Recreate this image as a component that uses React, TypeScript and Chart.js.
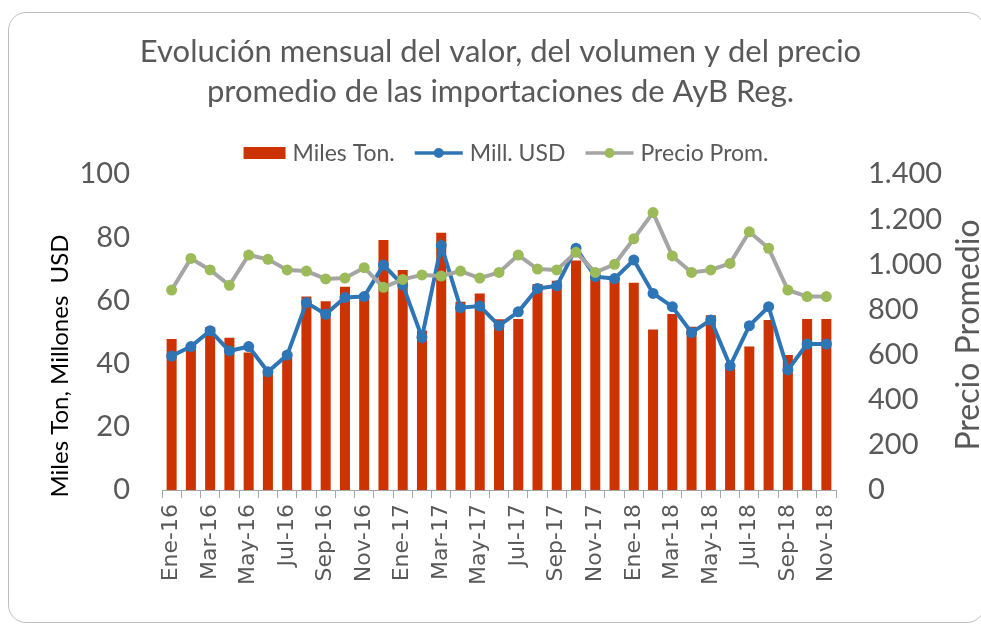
import { useEffect, useRef } from 'react';
import { Chart, registerables } from 'chart.js';

Chart.register(...registerables);

const categories = [
  'Ene-16', 'Feb-16', 'Mar-16', 'Abr-16', 'May-16', 'Jun-16', 'Jul-16', 'Ago-16', 'Sep-16', 'Oct-16', 'Nov-16', 'Dic-16',
  'Ene-17', 'Feb-17', 'Mar-17', 'Abr-17', 'May-17', 'Jun-17', 'Jul-17', 'Ago-17', 'Sep-17', 'Oct-17', 'Nov-17', 'Dic-17',
  'Ene-18', 'Feb-18', 'Mar-18', 'Abr-18', 'May-18', 'Jun-18', 'Jul-18', 'Ago-18', 'Sep-18', 'Oct-18', 'Nov-18',
];

const milesTon = [
  47.8, 44.8, 51.5, 48.2, 43.5, 37.0, 43.5, 61.2, 59.7, 64.3, 62.0, 79.1,
  69.6, 50.5, 81.4, 59.6, 62.2, 54.0, 54.1, 65.2, 66.2, 72.6, 69.0, 67.0,
  65.6, 50.8, 55.7, 51.7, 55.3, 39.0, 45.4, 53.8, 42.7, 54.1, 54.1,
];

const millUSD = [
  42.4, 45.4, 50.4, 44.0, 45.4, 37.4, 42.7, 59.3, 55.6, 60.9, 61.2, 71.2,
  64.9, 48.3, 77.4, 57.7, 58.2, 52.0, 56.4, 63.8, 64.6, 76.5, 67.5, 66.9,
  72.8, 62.2, 58.0, 49.8, 53.8, 39.3, 52.0, 58.0, 38.0, 46.2, 46.2,
];

const precioProm = [
  886, 1026, 975, 907, 1041, 1022, 975, 970, 935, 939, 985, 898,
  933, 953, 948, 970, 939, 964, 1041, 979, 975, 1053, 964, 1000,
  1113, 1229, 1037, 964, 975, 1004, 1144, 1071, 886, 857, 857,
];

const seriesNames = ['Miles Ton.', 'Mill. USD', 'Precio Prom.'];
const titleLines = ['Evolución mensual del valor, del volumen y del precio', 'promedio de las importaciones de AyB Reg.'];
const leftAxisTitle = 'Miles Ton, Millones  USD';
const rightAxisTitle = 'Precio Promedio';

const BAR = '#CC3300';
const BLUE = '#2E75B6';
const GRAY = '#A5A5A5';
const GREEN = '#9BBB59';
const TEXT = '#595959';
const FONT = 'Lato';

function formatThousands(v: number): string {
  const s = Math.round(v).toString();
  return s.replace(/\B(?=(\d{3})+(?!\d))/g, '.');
}

const overlayPlugin = {
  id: 'overlayTexts',
  afterDraw(chart: any) {
    const ctx: CanvasRenderingContext2D = chart.ctx;
    const area = chart.chartArea;
    ctx.save();

    // Legend
    ctx.font = `23px ${FONT}`;
    ctx.textBaseline = 'middle';
    ctx.textAlign = 'left';
    const iconW = [42, 48, 48];
    const gapIT = 7;
    const gapItems = 20;
    const widths = seriesNames.map((t) => ctx.measureText(t).width);
    let total = 0;
    for (let i = 0; i < 3; i++) total += iconW[i] + gapIT + widths[i];
    total += gapItems * 2;
    let x = 506 - total / 2;
    const y = 153;
    for (let i = 0; i < 3; i++) {
      if (i === 0) {
        ctx.fillStyle = BAR;
        ctx.fillRect(x, y - 6, iconW[i], 12);
      } else {
        const lc = i === 1 ? BLUE : GRAY;
        const pc = i === 1 ? BLUE : GREEN;
        ctx.strokeStyle = lc;
        ctx.lineWidth = 3.5;
        ctx.beginPath();
        ctx.moveTo(x, y);
        ctx.lineTo(x + iconW[i], y);
        ctx.stroke();
        ctx.fillStyle = pc;
        ctx.beginPath();
        ctx.arc(x + iconW[i] / 2, y, 5, 0, Math.PI * 2);
        ctx.fill();
      }
      x += iconW[i] + gapIT;
      ctx.fillStyle = TEXT;
      ctx.fillText(seriesNames[i], x, y + 1);
      x += widths[i] + gapItems;
    }

    // Left axis title
    ctx.save();
    ctx.font = `24px ${FONT}`;
    ctx.fillStyle = '#000000';
    ctx.textAlign = 'center';
    ctx.textBaseline = 'middle';
    ctx.translate(60, 366);
    ctx.rotate(-Math.PI / 2);
    ctx.fillText(leftAxisTitle, 0, 0);
    ctx.restore();

    // Right axis title
    ctx.save();
    ctx.font = `32px ${FONT}`;
    ctx.fillStyle = TEXT;
    ctx.textAlign = 'center';
    ctx.textBaseline = 'middle';
    ctx.translate(area.right + 133, 335);
    ctx.rotate(-Math.PI / 2);
    ctx.fillText(rightAxisTitle, 0, 0);
    ctx.restore();

    ctx.restore();
  },
};

export default function App() {
  const ref = useRef<HTMLCanvasElement | null>(null);

  useEffect(() => {
    if (!ref.current) return;
    const chart = new Chart(ref.current, {
      type: 'bar',
      data: {
        labels: categories,
        datasets: [
          {
            type: 'line',
            label: seriesNames[2],
            data: precioProm,
            yAxisID: 'y1',
            borderColor: GRAY,
            borderWidth: 4,
            pointBackgroundColor: GREEN,
            pointBorderColor: GREEN,
            pointRadius: 5.5,
            pointBorderWidth: 0,
            tension: 0,
            order: 1,
          },
          {
            type: 'line',
            label: seriesNames[1],
            data: millUSD,
            yAxisID: 'y',
            borderColor: BLUE,
            borderWidth: 4,
            pointBackgroundColor: BLUE,
            pointBorderColor: BLUE,
            pointRadius: 5.5,
            pointBorderWidth: 0,
            tension: 0,
            order: 2,
          },
          {
            type: 'bar',
            label: seriesNames[0],
            data: milesTon,
            yAxisID: 'y',
            backgroundColor: BAR,
            barPercentage: 0.52,
            categoryPercentage: 1,
            order: 3,
          },
        ],
      },
      options: {
        responsive: false,
        animation: false,
        layout: { padding: { left: 20, right: 0, top: 0, bottom: 0 } },
        plugins: {
          legend: { display: false },
          tooltip: { enabled: false },
          title: {
            display: true,
            text: titleLines,
            color: TEXT,
            font: { family: FONT, size: 31, weight: 'normal', lineHeight: '40px' },
            padding: { top: 32, bottom: 62 },
          },
        },
        scales: {
          x: {
            offset: true,
            grid: {
              display: true,
              offset: true,
              drawOnChartArea: false,
              drawTicks: true,
              tickLength: 8,
              color: '#A6A6A6',
            },
            border: { display: true, color: '#A6A6A6', width: 1 },
            ticks: {
              autoSkip: false,
              maxRotation: 90,
              minRotation: 90,
              padding: 6,
              color: TEXT,
              font: { family: 'DejaVu Sans', size: 22 },
              callback: (_v: any, i: number) => (i % 2 === 0 ? categories[i] : ''),
            },
            afterFit: (s: any) => {
              s.height = 135;
            },
          },
          y: {
            position: 'left',
            min: 0,
            max: 100,
            grid: { display: false, drawTicks: false },
            border: { display: false },
            ticks: {
              stepSize: 20,
              padding: 32,
              color: TEXT,
              font: { family: FONT, size: 29 },
            },
            afterFit: (s: any) => {
              s.width = 142;
            },
          },
          y1: {
            position: 'right',
            min: 0,
            max: 1400,
            grid: { display: false, drawTicks: false },
            border: { display: false },
            ticks: {
              stepSize: 200,
              padding: 32,
              color: TEXT,
              font: { family: FONT, size: 29 },
              callback: (v: any) => formatThousands(Number(v)),
            },
            afterFit: (s: any) => {
              s.width = 145;
            },
          },
        },
      },
      plugins: [overlayPlugin],
    });
    return () => chart.destroy();
  }, []);

  return (
    <div style={{ position: 'fixed', left: 0, top: 0, width: 981, height: 625, overflow: 'hidden', background: '#ffffff' }}>
      <div
        style={{
          position: 'absolute',
          left: 8,
          top: 12,
          width: 977,
          height: 611,
          border: '1px solid #BFBFBF',
          borderRadius: 18,
          boxSizing: 'border-box',
        }}
      />
      <canvas ref={ref} width={981} height={625} style={{ position: 'absolute', left: 0, top: 0, width: 981, height: 625 }} />
    </div>
  );
}
